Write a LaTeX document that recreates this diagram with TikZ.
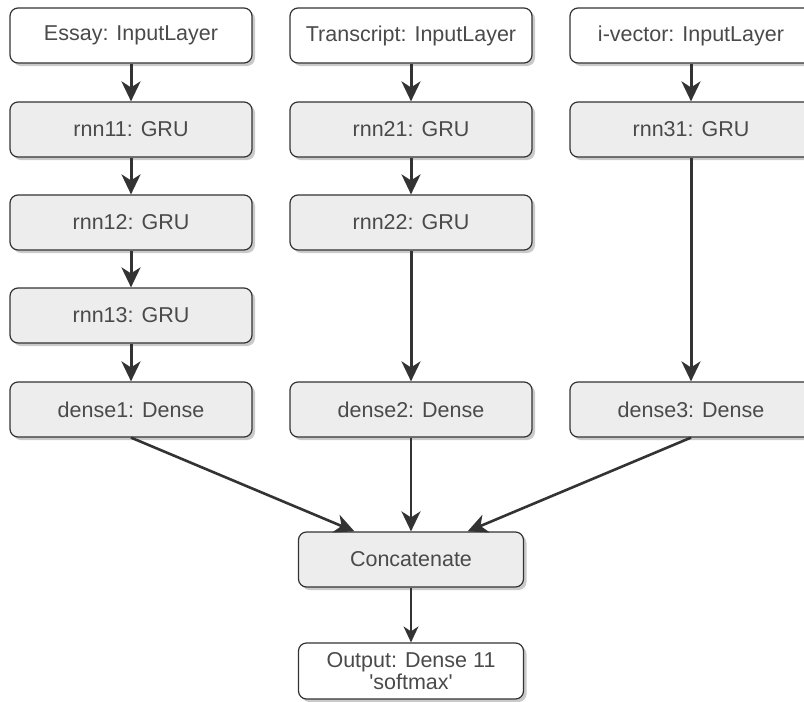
\documentclass[tikz,border=0pt]{standalone}
\usepackage{fontspec}
\setmainfont{Liberation Sans}
\usetikzlibrary{arrows.meta,shadows,calc}
\definecolor{txt}{HTML}{4A4A4A}
\definecolor{edge}{HTML}{333333}
\definecolor{boxfill}{HTML}{EDEDED}
\tikzset{
  basebox/.style={draw=edge, line width=1.2pt, rounded corners=8pt, minimum width=242pt, minimum height=55pt,
    inner sep=0pt, text=txt, font=\fontsize{21.5}{24}\selectfont,
    drop shadow={shadow xshift=3pt, shadow yshift=-3pt, fill=black!35, opacity=0.6}},
  inbox/.style={basebox, fill=white},
  graybox/.style={basebox, fill=boxfill},
  arr/.style={draw=edge, line width=3pt, -{Stealth[length=20pt,width=19pt,inset=6pt]}},
  arrmid/.style={draw=edge, line width=2.6pt, -{Stealth[length=20pt,width=19pt,inset=6pt]}},
  arrthin/.style={draw=edge, line width=1.7pt, -{Stealth[length=16pt,width=15pt,inset=5pt]}}
}
\begin{document}
\begin{tikzpicture}[x=1pt,y=-1pt]
\useasboundingbox (0,0) rectangle (804,702);
% column 1
\node[inbox]   (in1) at (131,35.5) {Essay: InputLayer};
\node[graybox] (r11) at (131,129.5) {rnn11: GRU};
\node[graybox] (r12) at (131,222.5) {rnn12: GRU};
\node[graybox] (r13) at (131,315.5) {rnn13: GRU};
\node[graybox] (d1)  at (131,409.5) {dense1: Dense};
% column 2
\node[inbox]   (in2) at (411,35.5) {Transcript: InputLayer};
\node[graybox] (r21) at (411,129.5) {rnn21: GRU};
\node[graybox] (r22) at (411,222.5) {rnn22: GRU};
\node[graybox] (d2)  at (411,409.5) {dense2: Dense};
% column 3
\node[inbox]   (in3) at (691,35.5) {i-vector: InputLayer};
\node[graybox] (r31) at (691,129.5) {rnn31: GRU};
\node[graybox] (d3)  at (691,409.5) {dense3: Dense};
% merge
\node[graybox, minimum width=225pt] (cat) at (411,559.5) {Concatenate};
\node[inbox, minimum width=225pt, minimum height=56pt, align=center, font=\fontsize{21.5}{22}\selectfont] (out) at (411,671) {Output: Dense 11\\\textquotesingle softmax\textquotesingle};
% arrows
\draw[arr] (in1) -- (r11);
\draw[arr] (r11) -- (r12);
\draw[arr] (r12) -- (r13);
\draw[arr] (r13) -- (d1);
\draw[arr] (in2) -- (r21);
\draw[arr] (r21) -- (r22);
\draw[arr] (r22) -- (d2);
\draw[arr] (in3) -- (r31);
\draw[arr] (r31) -- (d3);
\coordinate (catL) at ($(cat.north west)!0.25!(cat.north east)$);
\coordinate (catR) at ($(cat.north west)!0.75!(cat.north east)$);
\draw[arrmid] (d1.south) -- (catL);
\draw[arrmid] (d2.south) -- (cat.north);
\draw[arrmid] (d3.south) -- (catR);
\draw[arrthin] (cat) -- (out);
\end{tikzpicture}
\end{document}
